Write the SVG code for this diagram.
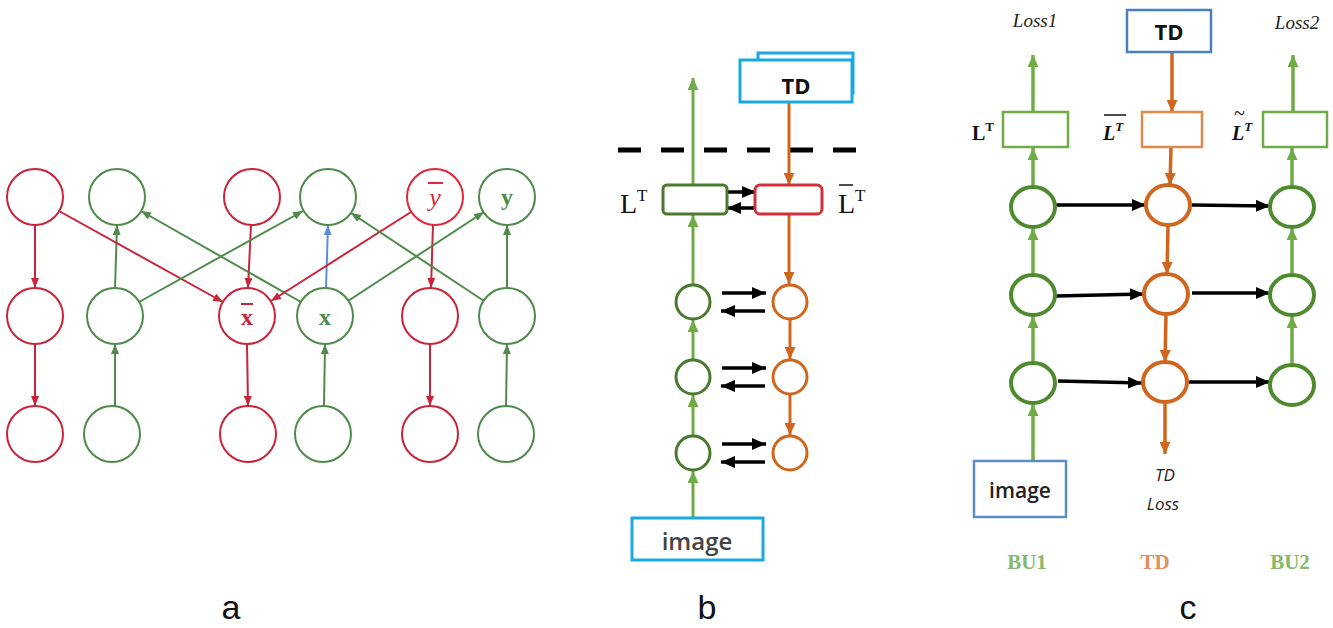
<svg xmlns="http://www.w3.org/2000/svg" width="1333" height="628" viewBox="0 0 1333 628">
  <defs>
    <style>
      .ar { fill: none; stroke: #c8243a; stroke-width: 2; }
      .ag { fill: none; stroke: #4f8a4b; stroke-width: 2; }
      .nr { fill: #fff; stroke: #c8243a; stroke-width: 2; }
      .ng { fill: #fff; stroke: #4f8a4b; stroke-width: 2; }
      .bg { fill: none; stroke: #6fac46; stroke-width: 3; }
      .bo { fill: none; stroke: #d0661e; stroke-width: 3; }
      .bk { fill: none; stroke: #000; stroke-width: 3.5; }
      .cg { fill: none; stroke: #6fac46; stroke-width: 3.5; }
      .co { fill: none; stroke: #d0661e; stroke-width: 3.5; }
      .serif { font-family: "Liberation Serif", "DejaVu Serif", serif; }
      .sans { font-family: "Liberation Sans", Arial, sans-serif; }
      .cal { font-family: "Open Sans", "Liberation Sans", sans-serif; }
      .panel { font-family: "Liberation Sans", Arial, sans-serif; font-size: 34px; fill: #111; text-anchor: middle; }
    </style>
    <marker id="hr" markerUnits="userSpaceOnUse" markerWidth="10" markerHeight="8" refX="10" refY="4" orient="auto">
      <path d="M0,0 L10,4 L0,8 z" fill="#c8243a"/>
    </marker>
    <marker id="hg" markerUnits="userSpaceOnUse" markerWidth="10" markerHeight="8" refX="10" refY="4" orient="auto">
      <path d="M0,0 L10,4 L0,8 z" fill="#4f8a4b"/>
    </marker>
    <marker id="hb" markerUnits="userSpaceOnUse" markerWidth="10" markerHeight="8" refX="10" refY="4" orient="auto">
      <path d="M0,0 L10,4 L0,8 z" fill="#5b8fd6"/>
    </marker>
    <marker id="hlg" markerUnits="userSpaceOnUse" markerWidth="12" markerHeight="11" refX="12" refY="5.5" orient="auto">
      <path d="M0,0 L12,5.5 L0,11 z" fill="#6fac46"/>
    </marker>
    <marker id="ho" markerUnits="userSpaceOnUse" markerWidth="12" markerHeight="11" refX="12" refY="5.5" orient="auto">
      <path d="M0,0 L12,5.5 L0,11 z" fill="#d0661e"/>
    </marker>
    <marker id="hk" markerUnits="userSpaceOnUse" markerWidth="14" markerHeight="12" refX="14" refY="6" orient="auto">
      <path d="M0,0 L14,6 L0,12 z" fill="#000"/>
    </marker>
  </defs>
  <rect width="1333" height="628" fill="#fff"/>

  <!-- ===== Panel a: unrolled bottom-up / top-down network ===== -->
  <g id="a-connectors">
    <line class="ar" x1="35" y1="225" x2="35" y2="288" marker-end="url(#hr)"/>
    <line class="ar" x1="35" y1="344" x2="35" y2="406" marker-end="url(#hr)"/>
    <line class="ag" x1="115" y1="406" x2="115" y2="344" marker-end="url(#hg)"/>
    <line class="ag" x1="115" y1="288" x2="117" y2="225" marker-end="url(#hg)"/>
    <line class="ar" x1="251" y1="225" x2="248" y2="288" marker-end="url(#hr)"/>
    <line class="ar" x1="247" y1="344" x2="248" y2="406" marker-end="url(#hr)"/>
    <line class="ag" x1="324" y1="406" x2="325" y2="344" marker-end="url(#hg)"/>
    <line x1="326" y1="288" x2="328" y2="225" stroke="#5b8fd6" stroke-width="2" marker-end="url(#hb)"/>
    <line class="ar" x1="433" y1="225" x2="431" y2="288" marker-end="url(#hr)"/>
    <line class="ar" x1="430" y1="344" x2="430" y2="406" marker-end="url(#hr)"/>
    <line class="ag" x1="506" y1="406" x2="507" y2="344" marker-end="url(#hg)"/>
    <line class="ag" x1="507" y1="288" x2="507" y2="225" marker-end="url(#hg)"/>
    <line class="ar" x1="59" y1="211" x2="223" y2="302" marker-end="url(#hr)"/>
    <line class="ag" x1="139" y1="302" x2="303" y2="211" marker-end="url(#hg)"/>
    <line class="ag" x1="301" y1="302" x2="141" y2="211" marker-end="url(#hg)"/>
    <line class="ar" x1="411" y1="212" x2="271" y2="301" marker-end="url(#hr)"/>
    <line class="ag" x1="348" y1="301" x2="484" y2="212" marker-end="url(#hg)"/>
    <line class="ag" x1="484" y1="301" x2="351" y2="213" marker-end="url(#hg)"/>
  </g>
  <g id="a-n1"><circle class="nr" cx="35" cy="197" r="28"/></g>
  <g id="a-n2"><circle class="ng" cx="117" cy="197" r="28"/></g>
  <g id="a-n3"><circle class="nr" cx="252" cy="197" r="28"/></g>
  <g id="a-n4"><circle class="ng" cx="328" cy="197" r="28"/></g>
  <g id="a-ybar">
    <circle cx="435" cy="197" r="28" fill="#fff" stroke="#e0283a" stroke-width="2"/>
    <text x="435" y="206" class="serif" font-size="26" font-style="italic" fill="#e0283a" text-anchor="middle">y</text>
    <line x1="428" y1="183" x2="443" y2="183" stroke="#e0283a" stroke-width="2"/>
  </g>
  <g id="a-y">
    <circle class="ng" cx="507" cy="197" r="28"/>
    <text x="507" y="205" class="serif" font-size="24" font-weight="bold" fill="#4f8a4b" text-anchor="middle">y</text>
  </g>
  <g id="a-n7"><circle class="nr" cx="35" cy="316" r="28"/></g>
  <g id="a-n8"><circle class="ng" cx="115" cy="316" r="28"/></g>
  <g id="a-xbar">
    <circle class="nr" cx="247" cy="316" r="28"/>
    <text x="247" y="325" class="serif" font-size="24" font-weight="bold" fill="#c8243a" text-anchor="middle">x</text>
    <line x1="241" y1="304" x2="253" y2="304" stroke="#c8243a" stroke-width="2"/>
  </g>
  <g id="a-x">
    <circle class="ng" cx="325" cy="316" r="28"/>
    <text x="325" y="325" class="serif" font-size="24" font-weight="bold" fill="#4f8a4b" text-anchor="middle">x</text>
  </g>
  <g id="a-n11"><circle class="nr" cx="430" cy="316" r="28"/></g>
  <g id="a-n12"><circle class="ng" cx="507" cy="316" r="28"/></g>
  <g id="a-n13"><circle class="nr" cx="35" cy="434" r="28"/></g>
  <g id="a-n14"><circle class="ng" cx="112" cy="434" r="28"/></g>
  <g id="a-n15"><circle class="nr" cx="248" cy="434" r="28"/></g>
  <g id="a-n16"><circle class="ng" cx="323" cy="434" r="28"/></g>
  <g id="a-n17"><circle class="nr" cx="430" cy="434" r="28"/></g>
  <g id="a-n18"><circle class="ng" cx="506" cy="434" r="28"/></g>

  <!-- ===== Panel b: BU / TD streams with lateral links ===== -->
  <line x1="618" y1="150" x2="862" y2="150" stroke="#000" stroke-width="5" stroke-dasharray="23 20"/>
  <g id="b-connectors">
    <line class="bg" x1="693" y1="518" x2="693" y2="471" marker-end="url(#hlg)"/>
    <line class="bg" x1="693" y1="436" x2="693" y2="395" marker-end="url(#hlg)"/>
    <line class="bg" x1="693" y1="360" x2="693" y2="320" marker-end="url(#hlg)"/>
    <line class="bg" x1="693" y1="285" x2="693" y2="215" marker-end="url(#hlg)"/>
    <line class="bg" x1="693" y1="185" x2="693" y2="78" marker-end="url(#hlg)"/>
    <line class="bo" x1="789" y1="102" x2="789" y2="185" marker-end="url(#ho)"/>
    <line class="bo" x1="789" y1="214" x2="789" y2="284" marker-end="url(#ho)"/>
    <line class="bo" x1="790" y1="320" x2="790" y2="359" marker-end="url(#ho)"/>
    <line class="bo" x1="790" y1="395" x2="790" y2="435" marker-end="url(#ho)"/>
    <line class="bk" x1="728" y1="192" x2="756" y2="192" marker-end="url(#hk)"/>
    <line class="bk" x1="755" y1="208" x2="727" y2="208" marker-end="url(#hk)"/>
    <line class="bk" x1="722" y1="293" x2="766" y2="293" marker-end="url(#hk)"/>
    <line class="bk" x1="765" y1="311" x2="721" y2="311" marker-end="url(#hk)"/>
    <line class="bk" x1="722" y1="368" x2="766" y2="368" marker-end="url(#hk)"/>
    <line class="bk" x1="765" y1="386" x2="721" y2="386" marker-end="url(#hk)"/>
    <line class="bk" x1="722" y1="444" x2="766" y2="444" marker-end="url(#hk)"/>
    <line class="bk" x1="765" y1="462" x2="721" y2="462" marker-end="url(#hk)"/>
  </g>
  <g id="b-td">
    <rect x="758" y="53" width="95" height="40" fill="#fff" stroke="#1aa8e0" stroke-width="3"/>
    <rect x="740" y="60" width="112" height="42" fill="#fff" stroke="#1aa8e0" stroke-width="3"/>
    <text x="796" y="94" class="cal" font-size="22" font-weight="bold" fill="#111" text-anchor="middle">TD</text>
  </g>
  <g id="b-lt">
    <rect x="663" y="185" width="64" height="29" rx="4" fill="#fff" stroke="#4a7a2e" stroke-width="3"/>
    <text x="620" y="213" class="serif" font-size="28" fill="#111">L<tspan font-size="17" dy="-12">T</tspan></text>
  </g>
  <g id="b-ltbar">
    <rect x="755" y="185" width="67" height="29" rx="5" fill="#fff" stroke="#d32f3a" stroke-width="3"/>
    <text x="838" y="213" class="serif" font-size="28" fill="#111">L<tspan font-size="17" dy="-12">T</tspan></text>
    <line x1="839" y1="185" x2="853" y2="185" stroke="#111" stroke-width="1.5"/>
  </g>
  <g id="b-bu1"><ellipse cx="693" cy="302" rx="17" ry="17" fill="#fff" stroke="#4a7a2e" stroke-width="3"/></g>
  <g id="b-bu2"><ellipse cx="693" cy="377" rx="17" ry="17" fill="#fff" stroke="#4a7a2e" stroke-width="3"/></g>
  <g id="b-bu3"><ellipse cx="693" cy="453" rx="17" ry="17" fill="#fff" stroke="#4a7a2e" stroke-width="3"/></g>
  <g id="b-td1"><ellipse cx="790" cy="302" rx="17" ry="17" fill="#fff" stroke="#d0661e" stroke-width="3"/></g>
  <g id="b-td2"><ellipse cx="790" cy="377" rx="17" ry="17" fill="#fff" stroke="#d0661e" stroke-width="3"/></g>
  <g id="b-td3"><ellipse cx="790" cy="453" rx="17" ry="17" fill="#fff" stroke="#d0661e" stroke-width="3"/></g>
  <g id="b-image">
    <rect x="632" y="518" width="131" height="42" fill="#fff" stroke="#1aa8e0" stroke-width="3"/>
    <text x="697" y="550" class="cal" font-size="24" font-weight="600" fill="#444" text-anchor="middle">image</text>
  </g>

  <!-- ===== Panel c: BU1 -> TD -> BU2 ===== -->
  <g id="c-connectors">
    <line class="cg" x1="1033" y1="461" x2="1033" y2="404" marker-end="url(#hlg)"/>
    <line class="cg" x1="1033" y1="363" x2="1033" y2="316" marker-end="url(#hlg)"/>
    <line class="cg" x1="1033" y1="275" x2="1033" y2="228" marker-end="url(#hlg)"/>
    <line class="cg" x1="1033" y1="187" x2="1033" y2="148" marker-end="url(#hlg)"/>
    <line class="cg" x1="1033" y1="112" x2="1033" y2="55" marker-end="url(#hlg)"/>
    <line class="cg" x1="1292" y1="365" x2="1292" y2="316" marker-end="url(#hlg)"/>
    <line class="cg" x1="1292" y1="275" x2="1292" y2="228" marker-end="url(#hlg)"/>
    <line class="cg" x1="1292" y1="187" x2="1292" y2="148" marker-end="url(#hlg)"/>
    <line class="cg" x1="1293" y1="112" x2="1293" y2="55" marker-end="url(#hlg)"/>
    <line class="co" x1="1172" y1="52" x2="1172" y2="112" marker-end="url(#ho)"/>
    <line class="co" x1="1171" y1="147" x2="1170" y2="185" marker-end="url(#ho)"/>
    <line class="co" x1="1168" y1="226" x2="1167" y2="274" marker-end="url(#ho)"/>
    <line class="co" x1="1166" y1="314" x2="1165" y2="362" marker-end="url(#ho)"/>
    <line class="co" x1="1165" y1="402" x2="1165" y2="454" marker-end="url(#ho)"/>
    <line class="bk" x1="1056" y1="205" x2="1146" y2="205" marker-end="url(#hk)"/>
    <line class="bk" x1="1192" y1="205" x2="1270" y2="206" marker-end="url(#hk)"/>
    <line class="bk" x1="1056" y1="296" x2="1144" y2="294" marker-end="url(#hk)"/>
    <line class="bk" x1="1192" y1="293" x2="1270" y2="293" marker-end="url(#hk)"/>
    <line class="bk" x1="1058" y1="381" x2="1142" y2="383" marker-end="url(#hk)"/>
    <line class="bk" x1="1189" y1="382" x2="1270" y2="382" marker-end="url(#hk)"/>
  </g>
  <g id="c-loss1"><text x="1035" y="27" class="serif" font-size="19" font-style="italic" fill="#222" text-anchor="middle">Loss1</text></g>
  <g id="c-loss2"><text x="1297" y="29" class="serif" font-size="19" font-style="italic" fill="#222" text-anchor="middle">Loss2</text></g>
  <g id="c-td">
    <rect x="1127" y="10" width="84" height="42" fill="#fff" stroke="#4a7fc0" stroke-width="2.5"/>
    <text x="1169" y="40" class="cal" font-size="22" font-weight="bold" fill="#111" text-anchor="middle">TD</text>
  </g>
  <g id="c-lt1">
    <rect x="1003" y="112" width="65" height="35" fill="#fff" stroke="#6fac46" stroke-width="2.5"/>
    <text x="972" y="140" class="serif" font-size="20" font-weight="bold" fill="#111">L<tspan font-size="13" dy="-9">T</tspan></text>
  </g>
  <g id="c-lt2">
    <rect x="1142" y="112" width="60" height="35" fill="#fff" stroke="#e08a4a" stroke-width="2.5"/>
    <text x="1103" y="140" class="serif" font-size="20" font-weight="bold" font-style="italic" fill="#111">L<tspan font-size="13" dy="-9">T</tspan></text>
    <line x1="1104" y1="115" x2="1126" y2="115" stroke="#111" stroke-width="1.5"/>
  </g>
  <g id="c-lt3">
    <rect x="1263" y="112" width="64" height="35" fill="#fff" stroke="#6fac46" stroke-width="2.5"/>
    <text x="1232" y="140" class="serif" font-size="20" font-weight="bold" font-style="italic" fill="#111">L<tspan font-size="13" dy="-9">T</tspan><tspan x="1234" y="120" font-size="20" font-weight="normal" font-style="normal">~</tspan></text>
  </g>
  <g id="c-bu1-1"><ellipse cx="1033" cy="207" rx="22" ry="20" fill="#fff" stroke="#4e8a2e" stroke-width="4"/></g>
  <g id="c-bu1-2"><ellipse cx="1033" cy="295" rx="22" ry="20" fill="#fff" stroke="#4e8a2e" stroke-width="4"/></g>
  <g id="c-bu1-3"><ellipse cx="1033" cy="383" rx="22" ry="20" fill="#fff" stroke="#4e8a2e" stroke-width="4"/></g>
  <g id="c-td-1"><ellipse cx="1168" cy="205" rx="22" ry="20" fill="#fff" stroke="#d0661e" stroke-width="4"/></g>
  <g id="c-td-2"><ellipse cx="1166" cy="294" rx="22" ry="20" fill="#fff" stroke="#d0661e" stroke-width="4"/></g>
  <g id="c-td-3"><ellipse cx="1165" cy="382" rx="22" ry="20" fill="#fff" stroke="#d0661e" stroke-width="4"/></g>
  <g id="c-bu2-1"><ellipse cx="1292" cy="207" rx="22" ry="20" fill="#fff" stroke="#4e8a2e" stroke-width="4"/></g>
  <g id="c-bu2-2"><ellipse cx="1292" cy="295" rx="22" ry="20" fill="#fff" stroke="#4e8a2e" stroke-width="4"/></g>
  <g id="c-bu2-3"><ellipse cx="1292" cy="385" rx="22" ry="20" fill="#fff" stroke="#4e8a2e" stroke-width="4"/></g>
  <g id="c-image">
    <rect x="974" y="461" width="92" height="56" fill="#fff" stroke="#5b8fc0" stroke-width="2.5"/>
    <text x="1020" y="498" class="cal" font-size="21" font-weight="600" fill="#222" text-anchor="middle">image</text>
  </g>
  <g id="c-tdloss">
    <text x="1165" y="481" class="cal" font-size="17" font-style="italic" fill="#222" text-anchor="middle">TD</text>
    <text x="1163" y="510" class="cal" font-size="17" font-style="italic" fill="#222" text-anchor="middle">Loss</text>
  </g>
  <g id="c-columns">
    <text x="1027" y="569" class="serif" font-size="21" font-weight="bold" fill="#86b86a" text-anchor="middle">BU1</text>
    <text x="1155" y="569" class="serif" font-size="21" font-weight="bold" fill="#e0905a" text-anchor="middle">TD</text>
    <text x="1290" y="569" class="serif" font-size="21" font-weight="bold" fill="#86b86a" text-anchor="middle">BU2</text>
  </g>

  <!-- panel letters -->
  <text x="231" y="619" class="panel">a</text>
  <text x="707" y="619" class="panel">b</text>
  <text x="1188" y="619" class="panel">c</text>
</svg>
